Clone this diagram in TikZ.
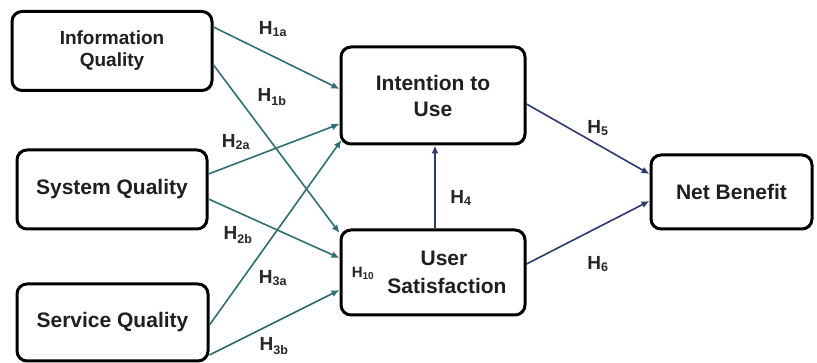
\documentclass[tikz,border=0pt]{standalone}
\usepackage{fontspec}
\setmainfont{Liberation Sans}
\usetikzlibrary{arrows.meta}
\definecolor{teal1}{HTML}{2F6F73}
\definecolor{navy1}{HTML}{2C3A6E}
\definecolor{lab}{HTML}{262626}
\tikzset{
  box/.style={draw=black, line width=3pt, rounded corners=10pt, align=center, font=\bfseries\fontsize{21}{26}\selectfont, text=black!88},
  tarr/.style={draw=teal1, line width=1.6pt, -{Latex[length=8pt,width=7pt]}},
  narr/.style={draw=navy1, line width=1.6pt, -{Latex[length=8pt,width=7pt]}},
  hlab/.style={font=\bfseries\fontsize{19}{21}\selectfont, text=lab, inner sep=0pt}
}
\newcommand{\hyp}[1]{H\textsubscript{\fontsize{12.5}{13}\selectfont #1}}
\begin{document}
\begin{tikzpicture}[x=1pt,y=-1pt]
\useasboundingbox (0,0) rectangle (817,363);
\node[box, minimum width=200pt, minimum height=79pt, font=\bfseries\fontsize{19}{23}\selectfont] (iq) at (112,51) {\raisebox{-3pt}{Information}\\\raisebox{-2pt}{Quality}};
\node[box, minimum width=190pt, minimum height=79pt] (sq) at (112,189.5) {System Quality};
\node[box, minimum width=191pt, minimum height=77pt] (svq) at (112.5,322.5) {Service Quality};
\node[box, minimum width=184pt, minimum height=97pt] (iu) at (433,95.5) {Intention to\\Use};
\node[box, minimum width=184pt, minimum height=85pt, font=\bfseries\fontsize{21}{28}\selectfont] (us) at (433,272.5) {\hspace*{22pt}User\\\hspace*{28pt}Satisfaction};
\node[box, minimum width=161pt, minimum height=74pt] (nb) at (731.5,192) {Net Benefit};

\draw[tarr] ([yshift=24pt]iq.east) -- ([yshift=6.5pt]iu.west);
\draw[tarr] ([yshift=-14pt]iq.east) -- ([yshift=39.5pt]us.west);
\draw[tarr] ([yshift=15.5pt]sq.east) -- ([yshift=-28.5pt]iu.west);
\draw[tarr] ([yshift=-9.5pt]sq.east) -- ([yshift=14.5pt]us.west);
\draw[tarr] ([yshift=-2.5pt]svq.east) -- ([xshift=2pt,yshift=-44.5pt]iu.west);
\draw[tarr] ([yshift=-32.5pt]svq.east) -- ([yshift=-17.5pt]us.west);
\draw[narr] ([xshift=2pt]us.north) -- ([xshift=2pt]iu.south);
\draw[narr] ([yshift=-8.5pt]iu.east) -- ([yshift=18pt]nb.west);
\draw[narr] ([yshift=8.5pt]us.east) -- ([yshift=-9pt]nb.west);

\node[hlab] (l1a) at (273,29) {\hyp{1a}};
\node[hlab] (l1b) at (272,97) {\hyp{1b}};
\node[hlab] (l2a) at (236,142) {\hyp{2a}};
\node[hlab] (l2b) at (238,235) {\hyp{2b}};
\node[hlab] (l3a) at (273,278) {\hyp{3a}};
\node[hlab] (l3b) at (274,346) {\hyp{3b}};
\node[hlab, font=\bfseries\fontsize{15}{17}\selectfont] (l10) at (363,273) {H\textsubscript{\fontsize{10}{11}\selectfont 10}};
\node[hlab] (l4) at (461,198) {\hyp{4}};
\node[hlab] (l5) at (598,128) {\hyp{5}};
\node[hlab] (l6) at (598,264) {\hyp{6}};
\end{tikzpicture}
\end{document}
